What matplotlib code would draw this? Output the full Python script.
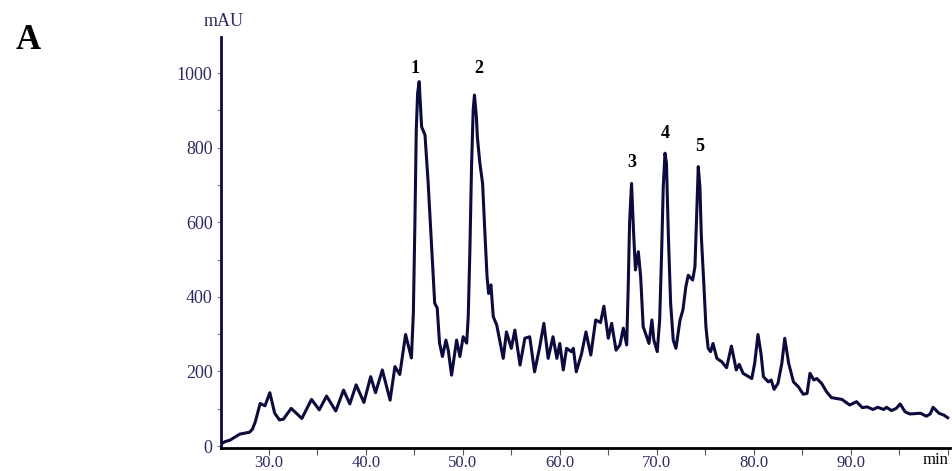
import matplotlib.pyplot as plt
from matplotlib.ticker import MultipleLocator

# chromatogram trace (time in min, absorbance in mAU)
time = [25.0, 25.5, 26.0, 27.0, 28.0, 28.3, 28.6, 29.1, 29.6, 30.1,
        30.6, 31.1, 31.5, 32.3, 33.4, 34.4, 35.2, 35.95, 36.9, 37.7,
        38.35, 39.0, 39.8, 40.5, 41.0, 41.7, 42.5, 43.0, 43.5, 44.1,
        44.7, 44.9, 45.06, 45.2, 45.34, 45.5, 45.75, 46.1, 46.43, 46.8,
        47.1, 47.36, 47.6, 47.9, 48.26, 48.5, 48.84, 49.36, 49.7, 50.04,
        50.4, 50.56, 50.73, 50.9, 51.07, 51.2, 51.4, 51.5, 51.76, 52.04,
        52.28, 52.5, 52.66, 52.9, 53.14, 53.5, 54.17, 54.5, 55.0, 55.37,
        55.9, 56.4, 56.9, 57.4, 57.9, 58.36, 58.8, 59.3, 59.7, 60.0,
        60.36, 60.7, 61.2, 61.4, 61.7, 62.25, 62.7, 63.2, 63.7, 64.2,
        64.55, 65.0, 65.35, 65.8, 66.2, 66.55, 66.9, 67.05, 67.2, 67.4,
        67.6, 67.8, 68.1, 68.34, 68.6, 68.96, 69.2, 69.5, 69.7, 70.05,
        70.3, 70.5, 70.67, 70.85, 71.0, 71.2, 71.43, 71.7, 71.98, 72.2,
        72.4, 72.7, 73.0, 73.25, 73.7, 73.94, 74.1, 74.28, 74.45, 74.6,
        74.87, 75.07, 75.3, 75.55, 75.8, 76.2, 76.7, 77.2, 77.7, 78.2,
        78.5, 78.9, 79.8, 80.1, 80.44, 80.75, 81.0, 81.5, 81.8, 82.1,
        82.5, 82.9, 83.2, 83.6, 84.1, 84.6, 85.1, 85.5, 85.8, 86.2,
        86.5, 87.0, 87.5, 88.0, 89.1, 89.9, 90.6, 91.2, 91.7, 92.3,
        92.8, 93.4, 93.7, 94.2, 94.7, 95.1, 95.6, 96.1, 97.2, 97.8,
        98.2, 98.5, 99.1, 99.6, 100.0]
mau = [5, 12, 16, 32, 37, 45, 65, 114, 108, 143,
       88, 70, 72, 101, 74, 125, 97, 134, 94, 150,
       113, 164, 117, 186, 143, 204, 123, 213, 192, 299,
       236, 356, 598, 847, 946, 977, 856, 834, 704, 525,
       383, 370, 276, 240, 284, 257, 190, 284, 240, 293,
       276, 347, 525, 749, 901, 941, 883, 829, 758, 704,
       570, 454, 409, 432, 347, 324, 235, 306, 262, 311,
       217, 289, 293, 199, 262, 329, 235, 293, 235, 275,
       204, 262, 253, 262, 199, 248, 306, 244, 338, 331,
       375, 289, 329, 257, 271, 316, 271, 420, 600, 704,
       579, 472, 521, 454, 320, 293, 275, 338, 284, 253,
       338, 516, 695, 785, 758, 561, 383, 284, 262, 302,
       338, 365, 427, 458, 445, 481, 606, 749, 695, 561,
       427, 320, 262, 253, 275, 235, 226, 210, 268, 204,
       219, 195, 181, 222, 299, 248, 186, 172, 177, 152,
       168, 222, 289, 222, 172, 159, 139, 141, 195, 177,
       181, 168, 146, 130, 125, 110, 119, 103, 105, 98,
       104, 98, 104, 95, 101, 113, 92, 86, 88, 80,
       86, 104, 88, 83, 76]

peak_names = ['1', '2', '3', '4', '5']
peak_time = [45.06, 51.66, 67.4, 70.9, 74.4]
peak_label_y = [1013, 1013, 759, 837, 802]

navy = '#0b0b3e'
tick_col = '#2b2b63'

plt.rcParams['font.family'] = ['Liberation Serif', 'DejaVu Serif']

fig = plt.figure(figsize=(9.52, 4.71), dpi=100)
ax = fig.add_axes([0.232, 0.049, 0.766, 0.872])

ax.plot(time, mau, color=navy, lw=2.2)

for name, t, y in zip(peak_names, peak_time, peak_label_y):
    ax.text(t, y, name, ha='center', va='center', fontsize=13,
            fontweight='bold', color='black')

ax.set_xlim(25.05, 100.25)
ax.set_ylim(-5, 1096)

ax.xaxis.set_minor_locator(MultipleLocator(5))
ax.yaxis.set_major_locator(MultipleLocator(200))
ax.yaxis.set_minor_locator(MultipleLocator(100))
ax.set_xticks([30, 40, 50, 60, 70, 80, 90])
ax.set_xticklabels(['30.0', '40.0', '50.0', '60.0', '70.0', '80.0', '90.0'])

ax.tick_params(axis='x', which='both', direction='out', length=5, width=0.8,
               color='#555555', labelsize=12, labelcolor=tick_col, pad=0)
ax.tick_params(axis='y', which='both', direction='out', length=3, width=0.8,
               color='#777777', labelsize=13, labelcolor=tick_col, pad=3)

for side in ['top', 'right']:
    ax.spines[side].set_visible(False)
ax.spines['left'].set_color(navy)
ax.spines['left'].set_linewidth(2.0)
ax.spines['bottom'].set_color('black')
ax.spines['bottom'].set_linewidth(2.0)

fig.text(0.235, 0.955, 'mAU', ha='center', va='center', fontsize=13,
         color=tick_col)
fig.text(0.983, 0.024, 'min', ha='center', va='center', fontsize=12,
         color='black')
fig.text(0.03, 0.915, 'A', ha='center', va='center', fontsize=25,
         fontweight='bold', color='black')

fig.savefig('out.png', dpi=100)
